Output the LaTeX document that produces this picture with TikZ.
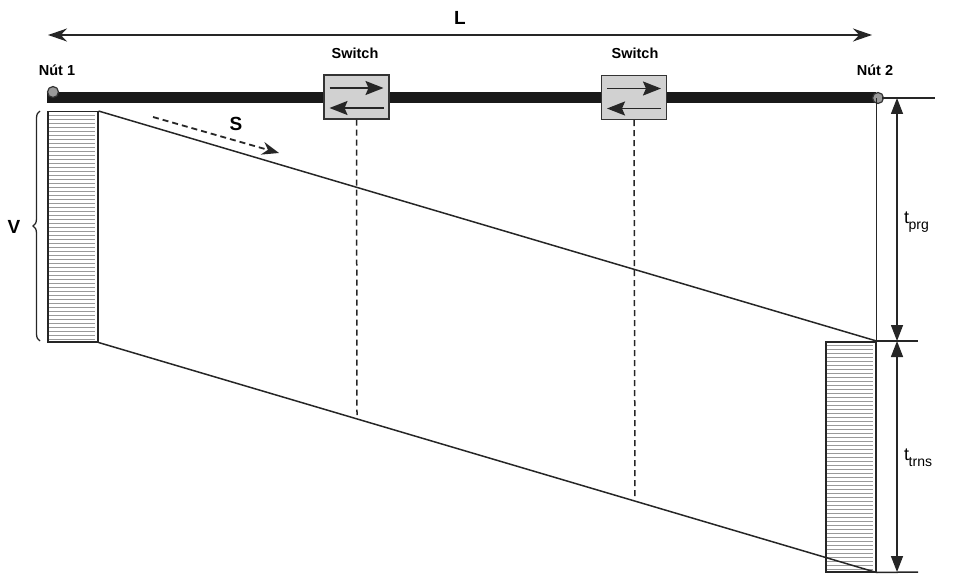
\documentclass[tikz,border=0pt]{standalone}
\usepackage{fontspec}
\setmainfont{Liberation Sans}
\usetikzlibrary{arrows.meta,decorations.pathreplacing,calc}
\begin{document}
\begin{tikzpicture}[x=1pt,y=-1pt,
  ln/.style={line width=1.5pt, draw=black!85},
  hatch/.style={line width=0.6pt, draw=black!40},
  hatchbox/.style={draw=black!85, line width=1.5pt, minimum width=50pt, minimum height=230pt, inner sep=0pt, anchor=north west},
  swbox/.style={draw=black!80, line width=1.4pt, fill=black!18, minimum width=65pt, minimum height=44pt, inner sep=0pt},
  nodec/.style={circle, draw=black!80, line width=1.2pt, fill=black!40, minimum size=11pt, inner sep=0pt},
  lbl/.style={font=\fontsize{14.5}{16}\selectfont\bfseries},
  big/.style={font=\fontsize{19}{21}\selectfont\bfseries},
  tip/.style={-{Stealth[length=17pt,width=13pt]}},
  swtip/.style={-{Stealth[length=18pt,width=14pt,inset=3pt]}},
  dimtip/.style={{Stealth[length=16pt,width=12pt,inset=0pt]}-{Stealth[length=16pt,width=12pt,inset=0pt]}}
]
\useasboundingbox (0,0) rectangle (979,588);

% top dimension L
\coordinate (La) at (48,35);
\coordinate (Lb) at (872,35);
\draw[ln, {Stealth[length=19pt,width=13pt]}-{Stealth[length=19pt,width=13pt]}] (La) -- (Lb);
\node[big] (L) at (460,18) {L};

% bar
\coordinate (bl) at (47,97.5);
\coordinate (br) at (876,97.5);
\draw[line width=10.5pt, draw=black!90] (bl) -- (br);
\node[nodec] (n1) at (53,92) {};
\node[nodec] (n2) at (878,98) {};
\node[lbl] (t1) at (57,70) {Nút 1};
\node[lbl] (t2) at (875,70) {Nút 2};

% switches
\node[swbox] (sw1) at (356.5,97) {};
\node[swbox] (sw2) at (634,97.5) {};
\node[lbl] (s1) at (355,53) {Switch};
\node[lbl] (s2) at (635,53) {Switch};
\foreach \s in {sw1,sw2}{
  \draw[ln, line width=1.8pt, swtip] ($(\s.center)+(-27,-9)$) -- ($(\s.center)+(27,-9)$);
  \draw[ln, line width=1.8pt, swtip] ($(\s.center)+(27,11)$) -- ($(\s.center)+(-27,11)$);
}
\coordinate (d1) at (357,415);
\coordinate (d2) at (635,500);
\draw[ln, dashed, dash pattern=on 6pt off 4pt] (sw1.south) -- (d1);
\draw[ln, dashed, dash pattern=on 6pt off 4pt] (sw2.south) -- (d2);

% rectangles
\node[hatchbox] (r1) at (47,111) {};
\node[hatchbox] (r2) at (825,341) {};
\foreach \y in {115,119,...,339} {
  \draw[hatch] (49,\y) -- (95,\y);
  \draw[hatch] (827,\y+230) -- (873,\y+230);
}
\node[hatchbox, fill=none] at (47,111) {};
\node[hatchbox, fill=none] at (825,341) {};

% slanted lines
\draw[ln] (r1.north east) -- (r2.north east);
\draw[ln] (r1.south east) -- (r2.south east);

% right vertical and dimensions
\draw[ln] (r2.north east) -- (r2.north east |- n2.center);
\coordinate (e0) at (882,98);
\coordinate (e0b) at (935,98);
\coordinate (e1b) at (918,341);
\coordinate (e2b) at (918,572);
\draw[ln] (e0) -- (e0b);
\draw[ln] (r2.north east) -- (e1b);
\draw[ln] (r2.south east) -- (e2b);
\coordinate (p0) at (897,98);
\coordinate (p1) at (897,341);
\coordinate (p2) at (897,572);
\draw[ln, dimtip] (p0) -- (p1);
\draw[ln, dimtip] (p1) -- (p2);
\node[anchor=west, inner sep=0pt, font=\fontsize{18}{20}\selectfont] (tp) at (904,222) {t\kern-0.5pt\raisebox{-6pt}{\fontsize{14}{16}\selectfont prg}};
\node[anchor=west, inner sep=0pt, font=\fontsize{18}{20}\selectfont] (tt) at (904,458) {t\kern-0.5pt\raisebox{-6pt}{\fontsize{14}{16}\selectfont trns}};

% brace
\coordinate (b1) at (40,341);
\coordinate (b2) at (40,111);
\draw[ln, line width=1.3pt, decorate, decoration={brace, amplitude=7pt}] (b1) -- (b2);
\node[big] (V) at (14,227) {V};

% S arrow
\coordinate (sa) at (153,117);
\coordinate (sb) at (279,153);
\draw[ln, line width=1.8pt, dashed, dash pattern=on 6pt off 4pt, tip] (sa) -- (sb);
\node[big] (S) at (236,124) {S};
\end{tikzpicture}
\end{document}
